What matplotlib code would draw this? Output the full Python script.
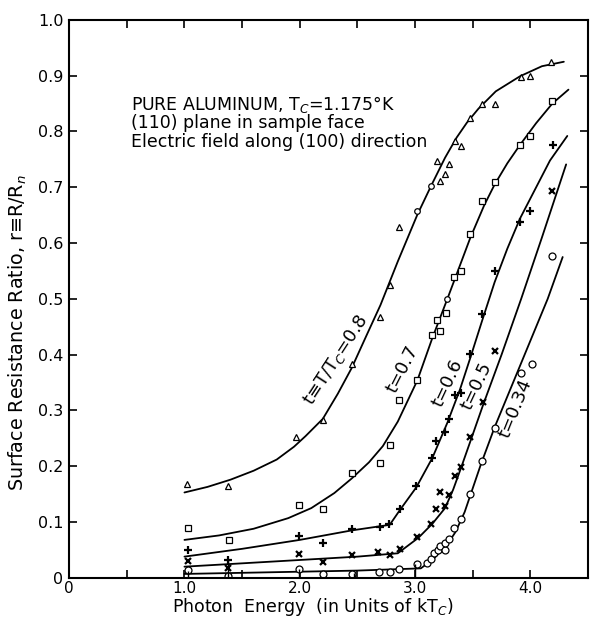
import numpy as np
import matplotlib
matplotlib.use("Agg")
import matplotlib.pyplot as plt
from matplotlib.ticker import MultipleLocator, FuncFormatter

# t = 0.8 (triangles)
x08 = [1.02, 1.38, 1.97, 2.20, 2.45, 2.70, 2.78, 2.86, 3.19, 3.22, 3.26, 3.29,
       3.35, 3.40, 3.48, 3.58, 3.69, 3.92, 4.00, 4.18]
y08 = [0.169, 0.164, 0.253, 0.283, 0.383, 0.468, 0.525, 0.628, 0.747, 0.712, 0.724, 0.742,
       0.783, 0.774, 0.824, 0.850, 0.850, 0.897, 0.899, 0.925]
x08o = [3.02, 3.14]
y08o = [0.657, 0.703]
cx08 = [1.0, 1.2, 1.4, 1.6, 1.8, 1.95, 2.05, 2.2, 2.33, 2.45, 2.58, 2.7, 2.85, 3.02,
        3.14, 3.26, 3.36, 3.45, 3.55, 3.7, 3.91, 4.1, 4.29]
cy08 = [0.153, 0.163, 0.176, 0.192, 0.212, 0.235, 0.254, 0.285, 0.33, 0.376, 0.435, 0.489,
        0.567, 0.651, 0.703, 0.753, 0.789, 0.816, 0.841, 0.872, 0.899, 0.917, 0.925]

# t = 0.7 (squares)
x07 = [1.03, 1.39, 1.99, 2.20, 2.45, 2.70, 2.78, 2.86, 3.02, 3.15, 3.19, 3.22, 3.27,
       3.34, 3.40, 3.48, 3.58, 3.69, 3.91, 4.00, 4.19]
y07 = [0.089, 0.068, 0.130, 0.124, 0.188, 0.206, 0.238, 0.318, 0.354, 0.436, 0.463, 0.443,
       0.475, 0.539, 0.550, 0.616, 0.676, 0.710, 0.776, 0.792, 0.855]
x07o = [3.28]
y07o = [0.500]
cx07 = [1.0, 1.3, 1.6, 1.9, 2.1, 2.3, 2.45, 2.6, 2.72, 2.85, 3.02, 3.15, 3.28, 3.48,
        3.6, 3.69, 3.8, 3.91, 4.05, 4.19, 4.33]
cy07 = [0.068, 0.076, 0.088, 0.107, 0.125, 0.152, 0.178, 0.207, 0.236, 0.28, 0.354,
        0.43, 0.500, 0.61, 0.668, 0.705, 0.743, 0.776, 0.815, 0.85, 0.875]

# t = 0.6 (plus)
x06 = [1.03, 1.38, 1.99, 2.20, 2.45, 2.70, 2.77, 2.87, 3.01, 3.15, 3.18, 3.26, 3.29,
       3.35, 3.40, 3.48, 3.58, 3.69, 3.91, 4.00, 4.20]
y06 = [0.050, 0.032, 0.075, 0.062, 0.087, 0.092, 0.096, 0.124, 0.164, 0.215, 0.245, 0.262,
       0.285, 0.327, 0.331, 0.401, 0.472, 0.550, 0.637, 0.658, 0.776]
cx06 = [1.0, 1.5, 2.0, 2.45, 2.78, 2.87, 3.01, 3.15, 3.28, 3.39, 3.48, 3.58, 3.69,
        3.8, 3.91, 4.05, 4.17, 4.32]
cy06 = [0.038, 0.052, 0.068, 0.085, 0.095, 0.122, 0.162, 0.215, 0.278, 0.338, 0.395,
        0.46, 0.53, 0.59, 0.644, 0.70, 0.748, 0.792]

# t = 0.5 (x)
x05 = [1.03, 1.38, 1.99, 2.20, 2.45, 2.68, 2.78, 2.87, 3.02, 3.14, 3.18, 3.26, 3.22,
       3.29, 3.35, 3.40, 3.48, 3.59, 3.69, 4.19]
y05 = [0.030, 0.018, 0.043, 0.028, 0.041, 0.046, 0.041, 0.052, 0.073, 0.096, 0.123, 0.128,
       0.153, 0.148, 0.183, 0.198, 0.253, 0.315, 0.406, 0.694]
cx05 = [1.0, 1.5, 2.0, 2.5, 2.85, 3.03, 3.15, 3.26, 3.33, 3.40, 3.48, 3.59, 3.75,
        3.92, 4.1, 4.31]
cy05 = [0.020, 0.026, 0.032, 0.038, 0.044, 0.072, 0.097, 0.125, 0.158, 0.198, 0.245,
        0.31, 0.40, 0.50, 0.61, 0.741]

# t = 0.34 (circles)
x034 = [1.03, 1.38, 1.99, 2.20, 2.45, 2.69, 2.78, 2.86, 3.02, 3.10, 3.14, 3.16, 3.20,
        3.22, 3.26, 3.26, 3.29, 3.34, 3.40, 3.48, 3.58, 3.69, 3.92, 4.01, 4.19]
y034 = [0.014, 0.004, 0.016, 0.007, 0.007, 0.011, 0.011, 0.016, 0.024, 0.027, 0.034, 0.045,
        0.050, 0.057, 0.050, 0.063, 0.069, 0.089, 0.105, 0.151, 0.210, 0.269, 0.368,
        0.383, 0.577]
cx034 = [1.0, 1.5, 2.0, 2.5, 3.05, 3.16, 3.28, 3.35, 3.43, 3.57, 3.69, 3.9, 4.15, 4.28]
cy034 = [0.007, 0.009, 0.011, 0.013, 0.017, 0.034, 0.06, 0.082, 0.118, 0.203, 0.27,
         0.375, 0.50, 0.575]

# short vertical strokes near the baseline
vx = [1.03, 1.38, 1.99, 2.47, 3.00]
vtop = [0.012, 0.032, 0.016, 0.009, 0.025]

labels = ["t\u2261T/T$_C$=0.8", "t=0.7", "t=0.6", "t=0.5", "t=0.34"]
lab_x = [2.31, 2.89, 3.28, 3.53, 3.87]
lab_y = [0.39, 0.374, 0.349, 0.343, 0.304]
lab_rot = [57, 63, 65, 65, 68]

plt.rcParams['font.family'] = ['DejaVu Sans']

fig = plt.figure(figsize=(5.91, 6.22), dpi=100)
ax = fig.add_axes([0.117, 0.071, 0.878, 0.897])

lw = 1.3
for cx, cy in [(cx08, cy08), (cx07, cy07), (cx06, cy06), (cx05, cy05), (cx034, cy034)]:
    ax.plot(cx, cy, color='black', lw=lw, solid_capstyle='round', solid_joinstyle='round')

mk = dict(linestyle='none', color='black', markerfacecolor='white')
ax.plot(x08, y08, marker='^', ms=5, mew=0.9, **mk)
ax.plot(x08o, y08o, marker='o', ms=4, mew=0.9, **mk)
ax.plot(x07, y07, marker='s', ms=5, mew=0.9, **mk)
ax.plot(x07o, y07o, marker='o', ms=4, mew=0.9, **mk)
ax.plot(x06, y06, marker='+', ms=6, mew=1.6, linestyle='none', color='black')
ax.plot(x05, y05, marker='x', ms=5, mew=1.6, linestyle='none', color='black')
ax.plot(x034, y034, marker='o', ms=5, mew=0.9, **mk)
ax.vlines(vx, 0, vtop, color='black', lw=1.0)

for s, tx, ty, r in zip(labels, lab_x, lab_y, lab_rot):
    ax.text(tx, ty, s, rotation=r, rotation_mode='anchor', ha='center', va='center',
            fontsize=13)

ax.text(0.54, 0.849, "PURE ALUMINUM, T$_C$=1.175\u00b0K", fontsize=12.5, va='center')
ax.text(0.54, 0.816, "(110) plane in sample face", fontsize=12.5, va='center')
ax.text(0.54, 0.782, "Electric field along (100) direction", fontsize=12.5, va='center')

ax.set_xlim(0, 4.5)
ax.set_ylim(0, 1.0)
ax.xaxis.set_major_locator(MultipleLocator(0.5))
ax.yaxis.set_major_locator(MultipleLocator(0.1))


def xfmt(v, pos):
    if abs(v) < 1e-9:
        return "0"
    if abs(v - round(v)) < 1e-9:
        return "%.1f" % v
    return ""


def yfmt(v, pos):
    if abs(v) < 1e-9:
        return "0"
    return "%.1f" % v


ax.xaxis.set_major_formatter(FuncFormatter(xfmt))
ax.yaxis.set_major_formatter(FuncFormatter(yfmt))
ax.tick_params(direction='in', length=6, width=1.2, top=True, right=True,
               labelsize=11.5, pad=4)
ax.tick_params(axis='x', labelsize=11, pad=2)
for sp in ax.spines.values():
    sp.set_linewidth(1.5)

ax.set_xlabel("Photon  Energy  (in Units of kT$_C$)", fontsize=12.5)
ax.xaxis.set_label_coords(0.47, -0.033)
ax.set_ylabel("Surface Resistance Ratio, r\u2261R/R$_n$", fontsize=13.8)
ax.yaxis.set_label_coords(-0.078, 0.44)

fig.savefig("out.png", dpi=100)
